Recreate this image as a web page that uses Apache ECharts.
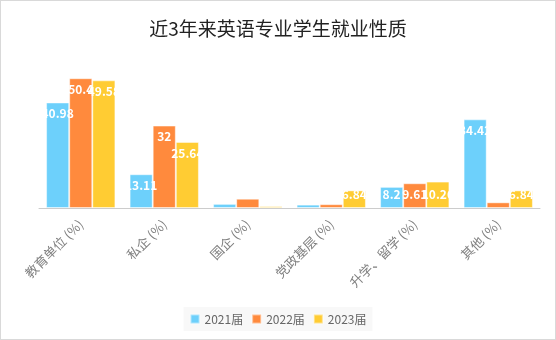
<!DOCTYPE html>
<html><head><meta charset="utf-8">
<script src="https://cdn.jsdelivr.net/npm/echarts@6/dist/echarts.min.js"></script>
<style>
html,body{margin:0;padding:0;background:#fff;}
#c{width:554px;height:338px;border:1px solid #d9d9d9;}
</style></head>
<body><div id="c"></div>
<script>
var categories = ['教育单位 (%)','私企 (%)','国企 (%)','党政基层 (%)','升学、留学 (%)','其他 (%)'];
var seriesNames = ['2021届','2022届','2023届'];
var v2021 = [40.98, 13.11, 1.6, 1.31, 8.2, 34.42];
var v2022 = [50.4, 32, 3.6, 1.48, 9.61, 2.2];
var v2023 = [49.58, 25.64, 0.7, 6.84, 10.26, 6.84];
var colors = ['#6dd0fb','#ff8a3d','#ffcc33'];
var yMax = 60;

var chart = echarts.init(document.getElementById('c'));
function mk(name, data, color){
  return {
    name: name, type: 'bar', barGap: 0, barCategoryGap: '17%',
    data: data.map(function(v){
      // short bars: label sits near the bottom (as in the reference)
      var shortBar = v < 11.3;
      return {value: v, label: shortBar ? {position: 'insideBottom', distance: 8} : {position: 'insideTop', distance: 5}};
    }),
    itemStyle: {color: color, borderColor: 'rgba(255,255,255,0.45)', borderWidth: 1},
    label: {show: true, color: '#fff', fontWeight: 'bold', fontSize: 12, overflow: 'none',
      textBorderWidth: 0, textBorderColor: 'transparent',
      fontFamily: 'Noto Sans CJK SC, sans-serif'}
  };
}
chart.setOption({
  animation: false,
  title: {text: '近3年来英语专业学生就业性质', left: 'center', top: 13,
    textStyle: {fontSize: 19, fontWeight: 'normal', color: '#222', fontFamily: 'Noto Sans CJK SC, sans-serif'}},
  legend: {data: seriesNames, bottom: 8, left: 'center', itemWidth: 9, itemHeight: 9, itemGap: 8,
    icon: 'rect', backgroundColor: '#f8f8f8', padding: [6, 6],
    textStyle: {color: '#666', fontSize: 12, fontFamily: 'Noto Sans CJK SC, sans-serif'}},
  grid: {left: 38, right: 15, top: 52.5, bottom: 131},
  xAxis: {type: 'category', data: categories,
    axisLine: {lineStyle: {color: '#ccc'}}, axisTick: {show: false},
    axisLabel: {rotate: 45, color: '#808080', fontSize: 13, margin: 14, interval: 0,
      fontFamily: 'Noto Sans CJK SC, sans-serif'}},
  yAxis: {type: 'value', min: 0, max: yMax, show: false, splitLine: {show: false}},
  series: [mk(seriesNames[0], v2021, colors[0]), mk(seriesNames[1], v2022, colors[1]), mk(seriesNames[2], v2023, colors[2])]
});
</script></body></html>
